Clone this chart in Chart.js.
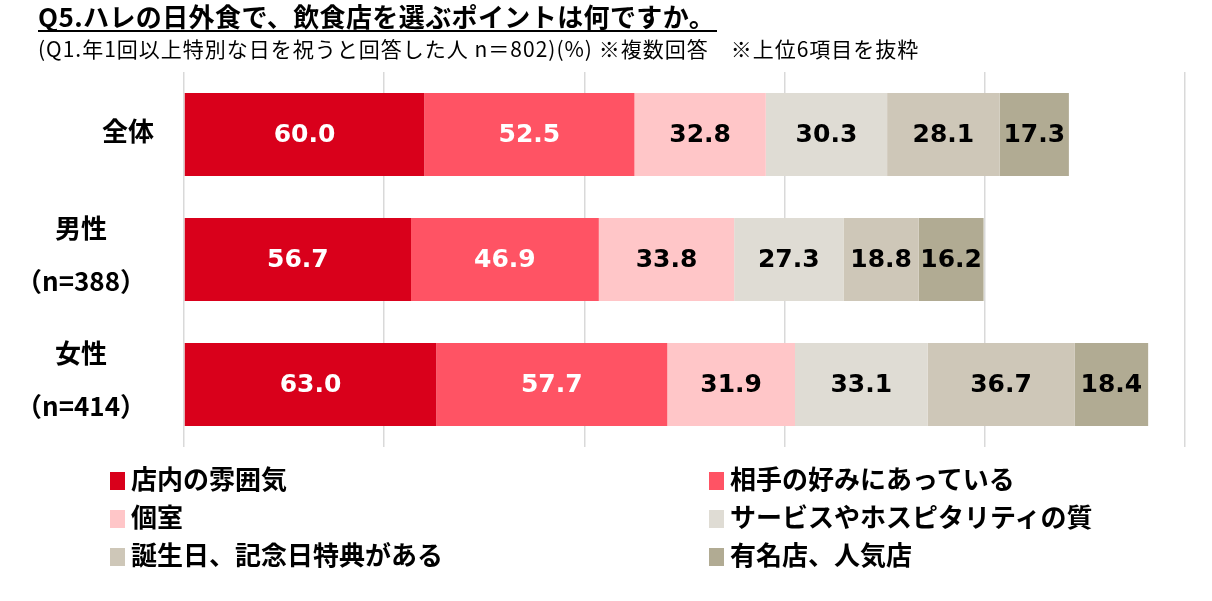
<!DOCTYPE html>
<html lang="ja">
<head>
<meta charset="utf-8">
<title>Q5 ハレの日外食</title>
<script src="https://cdn.jsdelivr.net/npm/chart.js@4"></script>
<style>
  html, body { margin: 0; padding: 0; background: #fff; }
  #wrap { position: relative; width: 1212px; height: 601px; overflow: hidden;
          font-family: "Noto Sans CJK JP", "Noto Sans", sans-serif; }
  #title { position: absolute; left: 38px; top: 2px; font-size: 26px; font-weight: bold; letter-spacing: 0.4px;
           color: #000; border-bottom: 2px solid #000; line-height: 28px; padding-right: 2px; }
  #subtitle { position: absolute; left: 38px; top: 35px; font-size: 21px; letter-spacing: 1px; color: #000; line-height: 26px; white-space: nowrap; }
  #chart { position: absolute; left: 0; top: 0; }
  #legend { position: absolute; left: 0; top: 0; width: 1212px; height: 601px; pointer-events: none; }
  .lg { position: absolute; font-size: 26px; font-weight: bold; line-height: 34px; white-space: nowrap; }
  .lg i { display: inline-block; width: 15px; height: 18px; margin-right: 6px; vertical-align: -1px; }
</style>
</head>
<body>
<div id="wrap">
  <canvas id="chart" width="1212" height="601"></canvas>
  <div id="title">Q5.ハレの日外食で、飲食店を選ぶポイントは何ですか。</div>
  <div id="subtitle">(Q1.年1回以上特別な日を祝うと回答した人 n＝802)(%) ※複数回答　※上位6項目を抜粋</div>
  <div id="legend"></div>
</div>
<script>
// categories (rows) and their labels
const groups = ['全体', '男性', '女性'];
const groupLabels = [['全体'], ['男性', '（n=388）'], ['女性', '（n=414）']];

// series
const seriesNames = ['店内の雰囲気', '相手の好みにあっている', '個室', 'サービスやホスピタリティの質', '誕生日、記念日特典がある', '有名店、人気店'];
const seriesColors = ['#D9001B', '#FF5364', '#FFC6C8', '#DFDCD4', '#CEC7B8', '#B1AB93'];
const labelColors = ['#fff', '#fff', '#000', '#000', '#000', '#000'];

const atmosphere = [60.0, 56.7, 63.0];
const partnerTaste = [52.5, 46.9, 57.7];
const privateRoom = [32.8, 33.8, 31.9];
const hospitality = [30.3, 27.3, 33.1];
const birthdayPerk = [28.1, 18.8, 36.7];
const famousShop = [17.3, 16.2, 18.4];
const seriesValues = [atmosphere, partnerTaste, privateRoom, hospitality, birthdayPerk, famousShop];

// axis range
const axisMax = 250;
const axisStep = 50;

// values inside the bars
const barValueLabels = {
  id: 'barValueLabels',
  afterDatasetsDraw(chart) {
    const ctx = chart.ctx;
    ctx.save();
    ctx.font = 'bold 25px "DejaVu Sans", sans-serif';
    ctx.textAlign = 'center';
    ctx.textBaseline = 'middle';
    chart.data.datasets.forEach((ds, di) => {
      const meta = chart.getDatasetMeta(di);
      ctx.fillStyle = labelColors[di];
      meta.data.forEach((bar, i) => {
        const p = bar.getProps(['x', 'y', 'base'], true);
        ctx.fillText(ds.data[i].toFixed(1), (p.x + p.base) / 2, p.y + 1);
      });
    });
    ctx.restore();
  }
};

// row labels on the left
const rowLabels = {
  id: 'rowLabels',
  afterDraw(chart) {
    const ctx = chart.ctx;
    const y = chart.scales.y;
    ctx.save();
    ctx.font = 'bold 26px "Noto Sans CJK JP", sans-serif';
    ctx.fillStyle = '#000';
    ctx.textAlign = 'center';
    ctx.textBaseline = 'middle';
    groupLabels.forEach((lines, i) => {
      const cy = y.getPixelForValue(i);
      if (lines.length === 1) {
        ctx.fillText(lines[0], 128, cy - 3);
      } else {
        ctx.fillText(lines[0], 81, cy - 31);
        ctx.fillText(lines[1], 81, cy + 22);
      }
    });
    ctx.restore();
  }
};

new Chart(document.getElementById('chart'), {
  type: 'bar',
  data: {
    labels: groups,
    datasets: seriesNames.map((name, i) => ({
      label: name,
      data: seriesValues[i],
      backgroundColor: seriesColors[i],
      borderWidth: 0,
      barPercentage: 0.665,
      categoryPercentage: 1.0
    }))
  },
  options: {
    indexAxis: 'y',
    responsive: false,
    animation: false,
    layout: { padding: { left: 184, right: 27, top: 72, bottom: 154 } },
    plugins: { legend: { display: false }, tooltip: { enabled: false } },
    scales: {
      x: {
        stacked: true,
        min: 0,
        max: axisMax,
        ticks: { display: false, stepSize: axisStep },
        grid: { color: '#D9D9D9', lineWidth: 1.5, drawTicks: false },
        border: { display: false }
      },
      y: {
        stacked: true,
        display: false
      }
    }
  },
  plugins: [barValueLabels, rowLabels]
});

// legend in two columns
const legendEl = document.getElementById('legend');
const colX = [110, 709];
const rowY = [461, 499, 537];
seriesNames.forEach((name, i) => {
  const d = document.createElement('div');
  d.className = 'lg';
  d.style.left = colX[i % 2] + 'px';
  d.style.top = rowY[Math.floor(i / 2)] + 'px';
  d.innerHTML = '<i style="background:' + seriesColors[i] + '"></i>' + name;
  legendEl.appendChild(d);
});
</script>
</body>
</html>
